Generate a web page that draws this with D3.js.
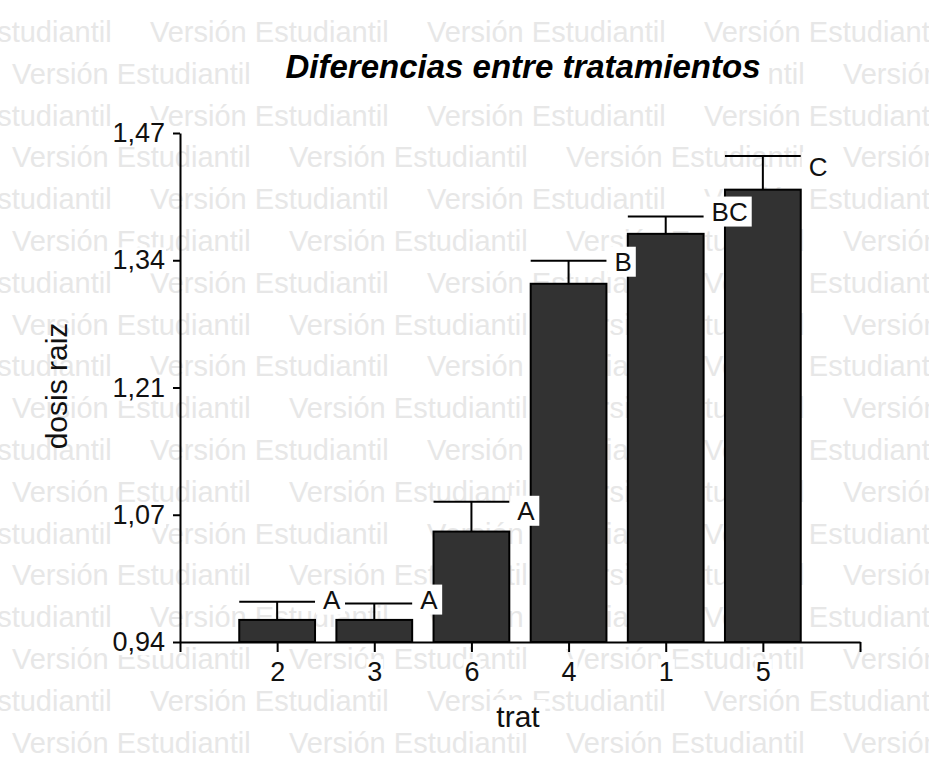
<!DOCTYPE html>
<html>
<head>
<meta charset="utf-8">
<script src="https://cdn.jsdelivr.net/npm/d3@7"></script>
<style>
  html, body { margin: 0; padding: 0; background: #fff; }
  svg { display: block; font-family: "Liberation Sans", Arial, Helvetica, sans-serif; }
</style>
</head>
<body>
<svg id="chart" width="929" height="762"></svg>
<script>
// Treatment means (dosis raiz) with their error and Tukey-style letters
const categories = ["2", "3", "6", "4", "1", "5"];
const means      = [0.963, 0.963, 1.055, 1.313, 1.365, 1.411];
const errors     = [0.019, 0.017, 0.031, 0.024, 0.018, 0.035];
const letters    = ["A", "A", "A", "B", "BC", "C"];

// Y axis ticks (evenly spaced) and their printed labels
const yTickValues = [0.94, 1.0725, 1.205, 1.3375, 1.47];
const yTickLabels = ["0,94", "1,07", "1,21", "1,34", "1,47"];

const titleText = "Diferencias entre tratamientos";
const xTitle = "trat";
const yTitle = "dosis raiz";
const watermark = "Versión Estudiantil";

// ---- layout ----
const W = 929, H = 762;
const plot = { left: 180, right: 860, top: 133, bottom: 642 };
// vertical nudge of each letter relative to its error cap (px)
const letterNudge = [-2, -4, 9, 1, -5, 11];

const svg = d3.select("#chart");

// background watermark rows
const wm = svg.append("g").attr("fill", "#e7e7e7").attr("font-size", 29);
const wmStep = 277, rowGap = 41.8, firstBase = 42;
for (let r = 0; r < 19; r++) {
  const start = r % 2 === 0 ? -127 : 12;
  for (let k = 0; k < 5; k++) {
    wm.append("text")
      .attr("x", start + k * wmStep)
      .attr("y", firstBase + r * rowGap)
      .text(watermark);
  }
}

const x = d3.scaleLinear()
  .domain([0, categories.length + 1])
  .range([plot.left, plot.right]);
const y = d3.scaleLinear()
  .domain([yTickValues[0], yTickValues[yTickValues.length - 1]])
  .range([plot.bottom, plot.top]);

const step = x(1) - x(0);
const bw = step * 0.78;

const data = categories.map((c, i) => ({
  cat: c, pos: i + 1, mean: means[i], err: errors[i], letter: letters[i], nudge: letterNudge[i]
}));

// bars
svg.append("g").selectAll("rect").data(data).join("rect")
  .attr("x", d => x(d.pos) - bw / 2)
  .attr("y", d => y(d.mean))
  .attr("width", bw)
  .attr("height", d => y(yTickValues[0]) - y(d.mean))
  .attr("fill", "#323232")
  .attr("stroke", "#000")
  .attr("stroke-width", 2);

// error bars: stem and full-width cap
const eb = svg.append("g").attr("stroke", "#000").attr("stroke-width", 2);
eb.selectAll("line.stem").data(data).join("line").attr("class", "stem")
  .attr("x1", d => x(d.pos)).attr("x2", d => x(d.pos))
  .attr("y1", d => y(d.mean)).attr("y2", d => y(d.mean + d.err));
eb.selectAll("line.cap").data(data).join("line").attr("class", "cap")
  .attr("x1", d => x(d.pos) - bw / 2).attr("x2", d => x(d.pos) + bw / 2)
  .attr("y1", d => y(d.mean + d.err)).attr("y2", d => y(d.mean + d.err));

// helper: put a white box behind a text node
function backBox(g, textSel, padX, padY) {
  textSel.each(function () {
    const b = this.getBBox();
    g.insert("rect", () => this)
      .attr("x", b.x - padX).attr("y", b.y - padY)
      .attr("width", b.width + 2 * padX).attr("height", b.height + 2 * padY)
      .attr("fill", "#fff");
  });
}

// letters beside the caps, on white boxes
const lg = svg.append("g").attr("font-size", 26).attr("fill", "#111");
data.forEach(d => {
  const capX = x(d.pos) + bw / 2;
  const cy = y(d.mean + d.err) + d.nudge;
  const t = lg.append("text")
    .attr("x", capX + 8)
    .attr("y", cy)
    .attr("dominant-baseline", "central")
    .text(d.letter);
  const b = t.node().getBBox();
  lg.insert("rect", () => t.node())
    .attr("x", capX + 1).attr("y", cy - 15)
    .attr("width", b.x + b.width + 4 - (capX + 1)).attr("height", 30)
    .attr("fill", "#fff");
});

// y axis
const yAxis = svg.append("g")
  .attr("transform", `translate(${plot.left},0)`)
  .call(d3.axisLeft(y)
    .tickValues(yTickValues)
    .tickFormat((d, i) => yTickLabels[i])
    .tickSize(7).tickSizeOuter(0).tickPadding(8));

// x axis
const xAxis = svg.append("g")
  .attr("transform", `translate(0,${plot.bottom})`)
  .call(d3.axisBottom(x)
    .tickValues(d3.range(0, categories.length + 2))
    .tickFormat(i => categories[i - 1] || "")
    .tickSize(10).tickSizeOuter(0).tickPadding(10));

[yAxis, xAxis].forEach(a => {
  a.attr("font-family", null).attr("font-size", 27);
  a.selectAll("path.domain").attr("stroke", "#000").attr("stroke-width", 2);
  a.selectAll(".tick line").attr("stroke", "#000").attr("stroke-width", 2);
  a.selectAll(".tick text").attr("fill", "#111");
  a.selectAll(".tick").each(function () {
    const tx = d3.select(this).select("text");
    if (tx.text() !== "") backBox(d3.select(this), tx, 1, -2);
  });
});

// axis titles
const yt = svg.append("text")
  .attr("transform", "translate(67,386) rotate(-90)")
  .attr("text-anchor", "middle")
  .attr("font-size", 30)
  .attr("fill", "#111")
  .text(yTitle);
backBox(svg, yt, 4, 0);

const xt = svg.append("text")
  .attr("x", 518).attr("y", 727)
  .attr("text-anchor", "middle")
  .attr("font-size", 30)
  .attr("fill", "#111")
  .text(xTitle);
backBox(svg, xt, 5, 0);

// title
const tt = svg.append("text")
  .attr("x", 523).attr("y", 78)
  .attr("text-anchor", "middle")
  .attr("font-size", 33)
  .attr("font-weight", "bold")
  .attr("font-style", "italic")
  .attr("fill", "#000")
  .text(titleText);
backBox(svg, tt, 8, 0);
</script>
</body>
</html>
